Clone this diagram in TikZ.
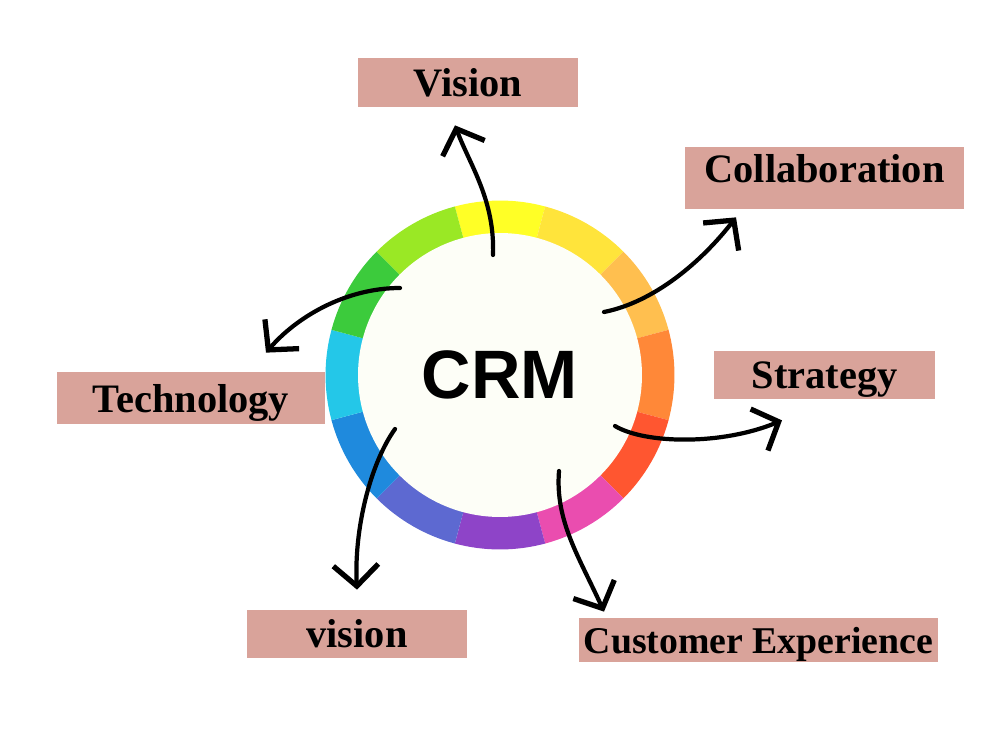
\documentclass[tikz,border=0pt]{standalone}
\usepackage{fontspec}
\setmainfont{Liberation Serif}
\newfontfamily\hubfont{Liberation Sans}
\usetikzlibrary{arrows.meta,calc}
\definecolor{tagfill}{HTML}{D9A39A}
\definecolor{hubfill}{HTML}{FDFEF7}
\definecolor{ringA}{HTML}{FFFF26}
\definecolor{ringB}{HTML}{FFE43B}
\definecolor{ringC}{HTML}{FFBF4F}
\definecolor{ringD}{HTML}{FF8838}
\definecolor{ringE}{HTML}{FF5630}
\definecolor{ringF}{HTML}{EA4DAF}
\definecolor{ringG}{HTML}{8E44C8}
\definecolor{ringH}{HTML}{5D69D1}
\definecolor{ringI}{HTML}{1F8ADD}
\definecolor{ringJ}{HTML}{24C7E8}
\definecolor{ringK}{HTML}{3CCB3C}
\definecolor{ringL}{HTML}{9AE825}

\begin{document}
\begin{tikzpicture}[
    x=0.02cm, y=-0.02cm,
    >={Straight Barb[length=4.2mm,width=9mm,line width=3pt]},
    tag/.style  = {fill=tagfill, text=black, inner sep=0pt, align=center,
                   font=\bfseries\fontsize{23}{23}\selectfont},
    hub/.style  = {circle, fill=hubfill, minimum size=5.68cm, inner sep=0pt,
                   font=\hubfont\bfseries\fontsize{39}{39}\selectfont},
    flow/.style = {->, draw=black, line width=2.4pt, line cap=round},
  ]
  \useasboundingbox (0,0) rectangle (1000,750);

  % ===================================================================
  % Colour wheel with the CRM hub
  % ===================================================================
  \coordinate (c) at (500,375);
  \foreach \col [count=\i from 0, evaluate=\i as \a using 75-30*\i] in
    {ringA,ringB,ringC,ringD,ringE,ringF,ringG,ringH,ringI,ringJ,ringK,ringL}
    \fill[\col] (c) -- ++(\a:3.49cm)
      arc[start angle=\a, end angle=\a+30, radius=3.49cm] -- cycle;
  \node[hub] (crm) at (c) {CRM};

  % ===================================================================
  % Labels round the wheel
  % ===================================================================
  \node[tag, minimum width=4.4cm, minimum height=0.98cm] (vis)
    at (468,82.5) {Vision};
  \node[tag, minimum width=5.58cm, minimum height=1.24cm, text depth=0.4cm]
    (collab) at (824.5,178) {Collaboration};
  \node[tag, minimum width=4.42cm, minimum height=0.96cm, text depth=0pt]
    (strat) at (824.5,375) {Strategy};
  \node[tag, minimum width=5.36cm, minimum height=1.04cm, text depth=0pt]
    (tech) at (191,398) {Technology};
  \node[tag, minimum width=4.4cm, minimum height=0.96cm] (visb)
    at (357,634) {vision};
  \node[tag, minimum width=7.18cm, minimum height=0.88cm, text depth=0pt,
        font=\bfseries\fontsize{21.5}{21.5}\selectfont] (cx)
    at (758.5,640) {Customer Experience};

  % ----- arrow ends -----
  \coordinate (s1) at ($(c)+(-7,-120)$);
  \coordinate (s2) at ($(c)+(-100,-87)$);
  \coordinate (s3) at ($(c)+(104,-63)$);
  \coordinate (s4) at ($(c)+(115,51)$);
  \coordinate (s5) at ($(c)+(-105,54)$);
  \coordinate (s6) at ($(c)+(59,96)$);
  \coordinate (t1) at ($(vis.south)+(-13,18)$);
  \coordinate (t2) at ($(tech.north)+(75,-19)$);
  \coordinate (t3) at ($(collab.south)+(-88.5,8)$);
  \coordinate (t4) at ($(strat.south)+(-42.5,21)$);
  \coordinate (t5) at ($(visb.north)+(0,-20)$);
  \coordinate (t6) at ($(cx.north)+(-154.5,-6)$);

  % ===================================================================
  % Curved arrows out of the hub
  % ===================================================================
  \draw[flow] (s1) .. controls +(2,-55) and +(15,40) .. (t1);
  \draw[flow] (s2) .. controls +(-55,0) and +(30,-35) .. (t2);
  \draw[flow] (s3) .. controls +(50,-10) and +(-35,45) .. (t3);
  \draw[flow] (s4) .. controls +(30,18) and +(-60,25) .. (t4);
  \draw[flow] (s5) .. controls +(-25,35) and +(-3,-60) .. (t5);
  \draw[flow] (s6) .. controls +(-4,50) and +(-25,-55) .. (t6);

\end{tikzpicture}
\end{document}
